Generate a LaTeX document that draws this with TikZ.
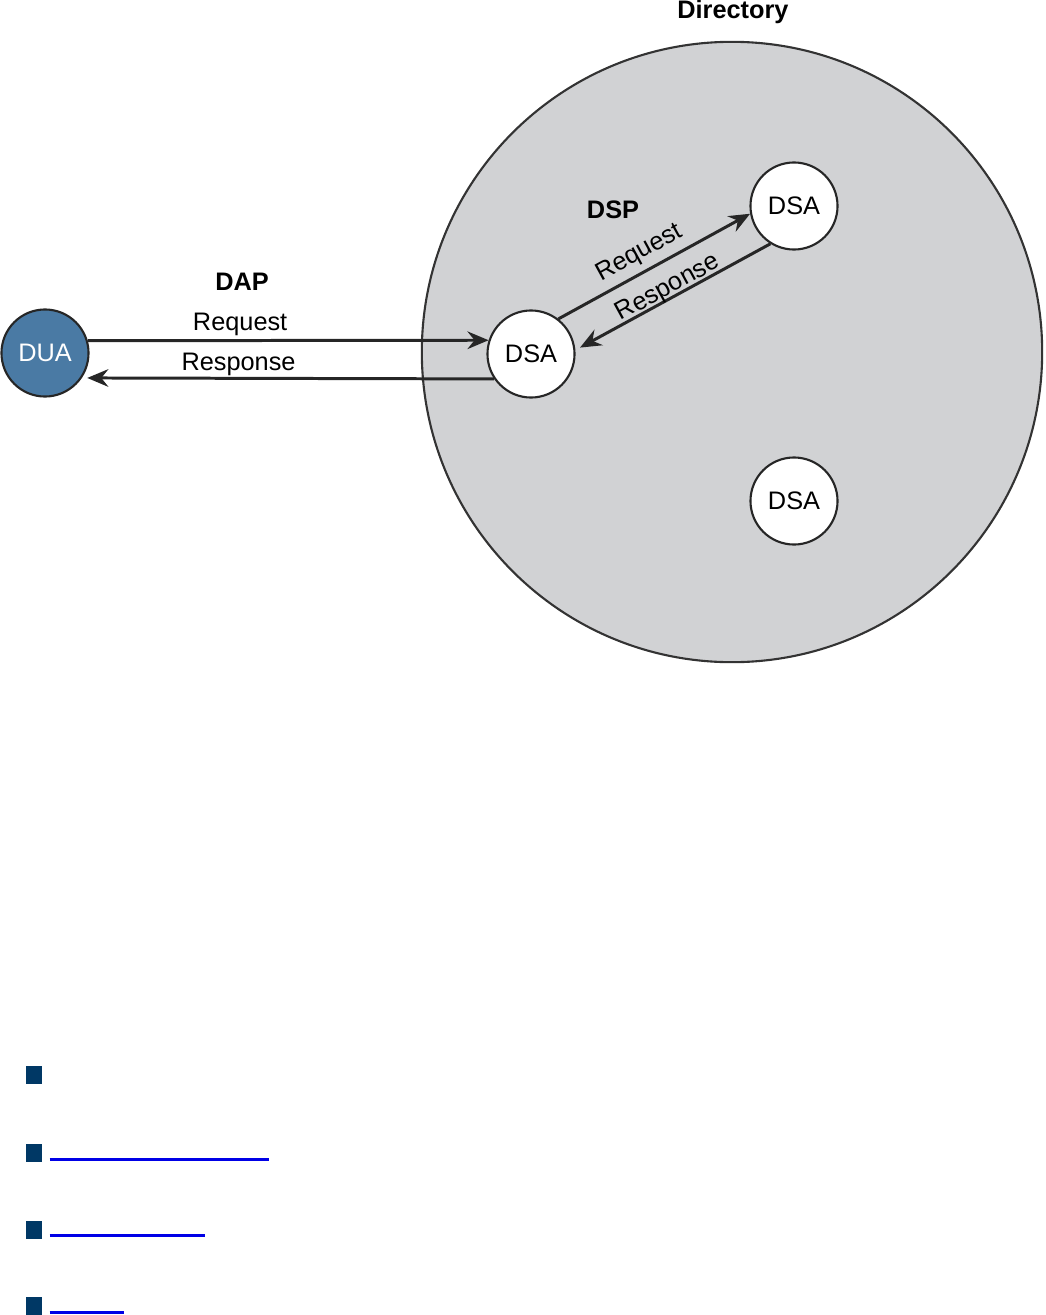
\documentclass[tikz,border=0pt]{standalone}
\usepackage{fontspec}
\setmainfont{Liberation Sans}
\usetikzlibrary{arrows.meta}
\definecolor{dirgray}{RGB}{209,210,212}
\definecolor{duablue}{RGB}{74,122,164}
\definecolor{navy}{RGB}{0,56,101}
\definecolor{linkblue}{RGB}{0,0,230}

\begin{document}
\begin{tikzpicture}[x=0.01cm, y=-0.01cm,
    font=\fontsize{7.2}{8.6}\selectfont,
    agent/.style={circle, draw=black!85, line width=0.6pt, fill=white, inner sep=0pt, minimum size=0.87cm},
    msg/.style={line width=0.85pt, draw=black!85, -{Stealth[length=6pt, width=5pt, inset=2pt]}},
    tag/.style={inner sep=0.2pt},
    bulletbox/.style={fill=navy, inner sep=0pt, minimum width=0.16cm, minimum height=0.18cm},
    link/.style={line width=0.8pt, draw=linkblue}]
      \useasboundingbox (0,0) rectangle (1045,1315);

      \node[circle, draw=black!80, line width=0.6pt, fill=dirgray, inner sep=0pt, minimum size=6.2cm] (dir) at (732,352) {};
      \node[font=\fontsize{7.2}{8.6}\selectfont\bfseries] (dirname) at (733,12) {Directory};

      \node[agent, fill=duablue, text=white] (dua) at (45,353) {DUA};
      \node[agent] (dsa1) at (531,354) {DSA};
      \node[agent] (dsa2) at (794,206) {DSA};
      \node[agent] (dsa3) at (794,501) {DSA};

      \node[font=\fontsize{7.2}{8.6}\selectfont\bfseries] (dap) at (242,282) {DAP};
      \node[font=\fontsize{7.2}{8.6}\selectfont\bfseries] (dsp) at (613,210) {DSP};

      \draw[msg] (dua.16) -- node[tag, above, pos=0.38, yshift=0.6pt] {Request} (dsa1.162);
      \draw[msg, shorten >=1.5pt] (dsa1.214) -- node[tag, above, pos=0.62] {Response} (dua.-34);
      \draw[msg] (dsa1.52) -- node[tag, above, sloped, inner sep=1.6pt, pos=0.47] {Request} (dsa2.190);
      \draw[msg, shorten >=1.5pt] (dsa2.238) -- node[tag, above, sloped, yshift=-1pt] {Response} (dsa1.5);

      \node[bulletbox] (b1) at (34,1075) {};
      \node[bulletbox] (b2) at (34,1153) {};
      \node[bulletbox] (b3) at (34,1229.5) {};
      \node[bulletbox] (b4) at (34,1306) {};

      \draw[link] ([xshift=0.07cm, yshift=1pt]b2.south east) -- ++(219,0);
      \draw[link] ([xshift=0.07cm, yshift=1pt]b3.south east) -- ++(155,0);
      \draw[link] ([xshift=0.07cm, yshift=1pt]b4.south east) -- ++(74,0);
    \end{tikzpicture}
\end{document}
